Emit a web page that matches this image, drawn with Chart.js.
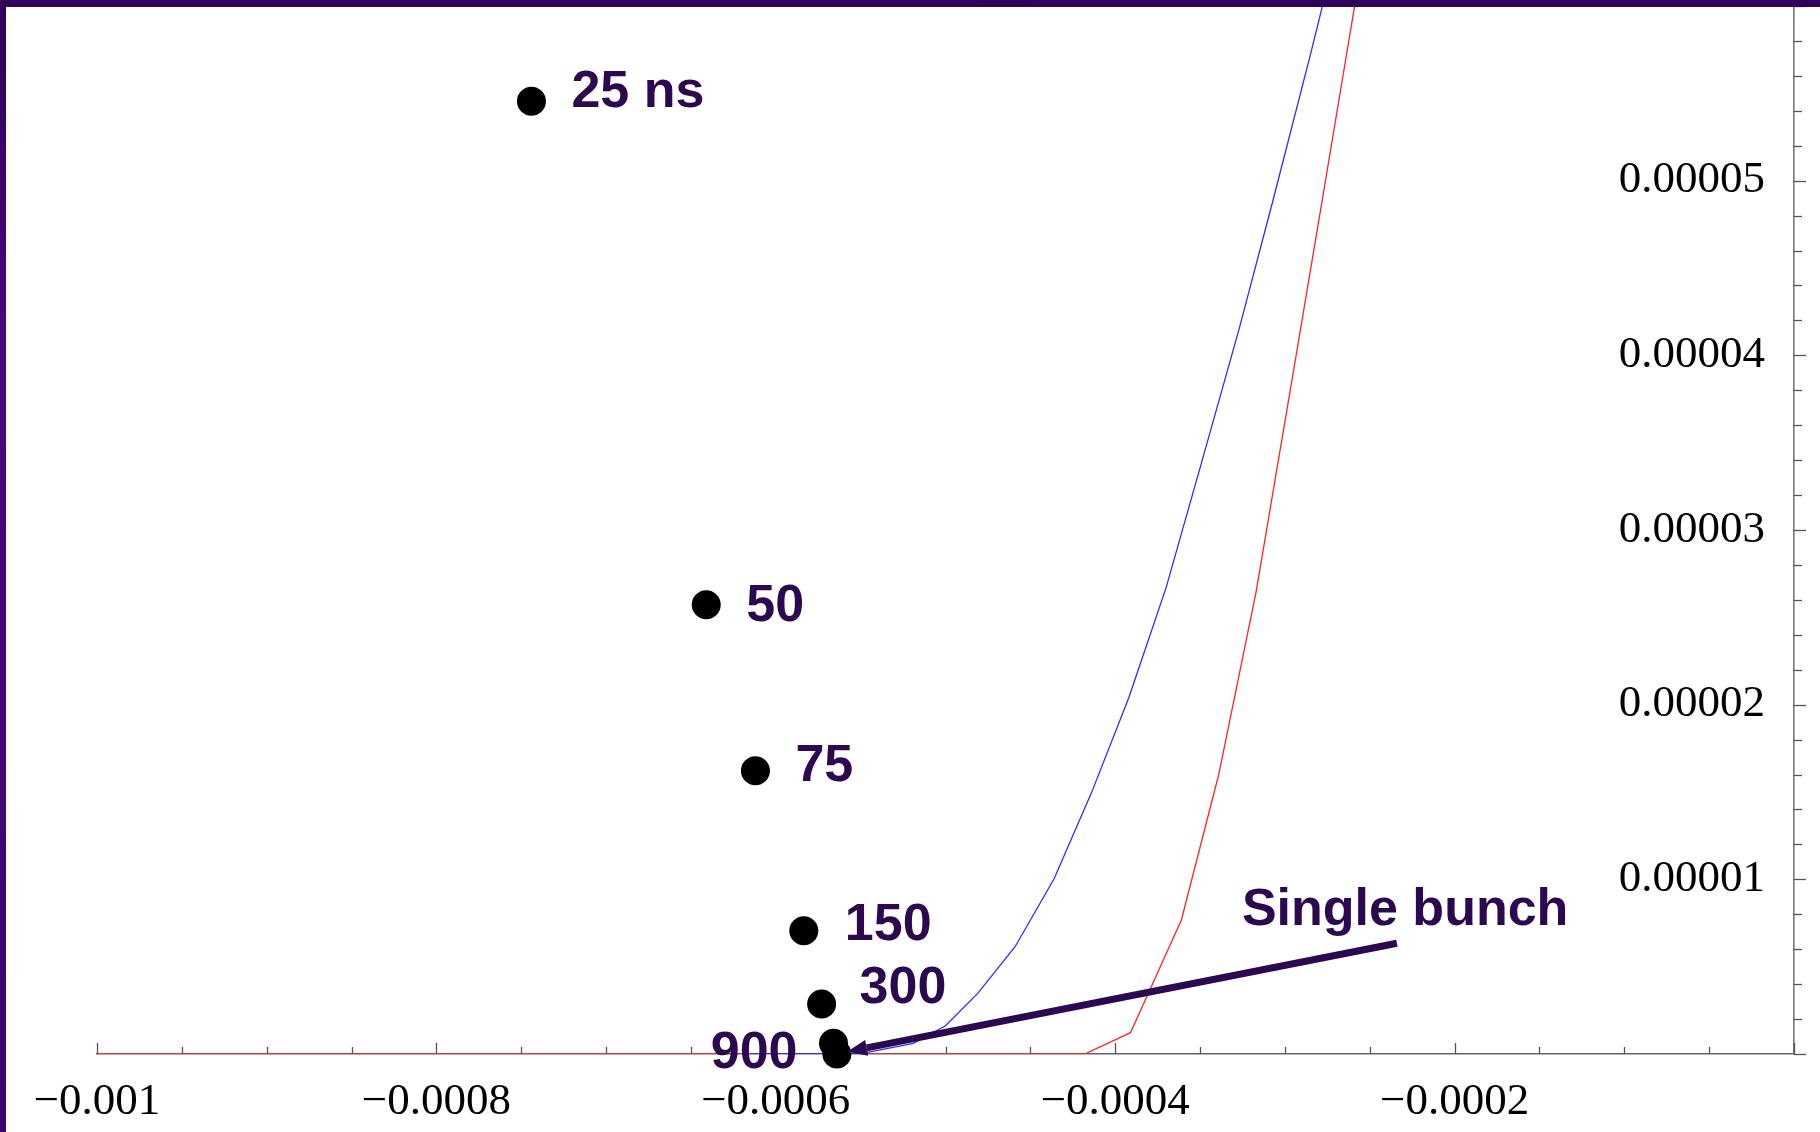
<!DOCTYPE html>
<html>
<head>
<meta charset="utf-8">
<title>Coupled-bunch thresholds</title>
<script src="https://cdn.jsdelivr.net/npm/chart.js@4.4.1/dist/chart.umd.min.js"></script>
<style>
  html, body { margin: 0; padding: 0; background: #ffffff; }
  #wrap { position: relative; width: 1820px; height: 1132px; overflow: hidden; background: #ffffff; }
  #c { position: absolute; left: 0; top: 0; }
  .frame-top { position: absolute; left: 0; top: 0; width: 1820px; height: 7px;
               background: linear-gradient(to right, #31005c, #2e0057); }
  .frame-left { position: absolute; left: 0; top: 0; width: 6px; height: 1132px;
                background: linear-gradient(to bottom, #30005a 0%, #48077f 30%, #3a0670 100%); }
</style>
</head>
<body>
<div id="wrap">
  <canvas id="c" width="1820" height="1132"></canvas>
  <div class="frame-top"></div>
  <div class="frame-left"></div>
</div>
<script>
// Stability boundary curves
const blueX = [-0.00062, -0.000549, -0.000519, -0.0005, -0.000481, -0.000459, -0.000436,
               -0.000414, -0.000392, -0.00037, -0.000349, -0.000327, -0.000307, -0.000285,
               -0.000278, -0.000263];
const blueY = [0, 0.00000004, 0.00000061, 0.00000162, 0.00000347, 0.00000614, 0.00001003,
               0.00001495, 0.0000204, 0.0000267, 0.0000339, 0.0000415, 0.00004888, 0.0000572,
               0.00005995, 0.0000656];

const redX = [-0.001, -0.000418, -0.000391, -0.000361, -0.000339, -0.000317, -0.000296,
              -0.000278, -0.000259, -0.000245];
const redY = [0, 0, 0.00000122, 0.00000767, 0.000016, 0.00002645, 0.0000385,
              0.00004888, 0.00005995, 0.000068];

// Working points for each bunch spacing
const bunchLabels = ['25 ns', '50', '75', '150', '300', '900', 'Single bunch'];
const bunchX = [-0.000744, -0.000641, -0.000612, -0.0005835, -0.000573, -0.000566, -0.000564];
const bunchY = [0.00005455, 0.00002572, 0.00001622, 0.00000706, 0.00000286, 0.00000061, 0];

// Axis tick labels
const xTickValues = [-0.001, -0.0008, -0.0006, -0.0004, -0.0002];
const yTickValues = [0.00001, 0.00002, 0.00003, 0.00004, 0.00005];

// Arrow from the "Single bunch" caption to its point (data units)
const arrowTail = { x: -0.000234, y: 0.00000634 };
const arrowTip = { x: -0.000558, y: 0.00000013 };

const toPoints = (xs, ys) => xs.map((x, i) => ({ x, y: ys[i] }));

const INK = '#2c0850';
const LABEL_FONT = 'bold 52px "Liberation Sans", Arial, sans-serif';
// pixel offsets of each caption from its point: [dx, dy, align]
const labelPlacement = [
  [40, 6, 'left'], [40, 16, 'left'], [40, 10, 'left'], [41, 9, 'left'],
  [38, -1, 'left'], [-36, 25, 'right'], null
];

function fmtTick(v) {
  if (Math.abs(v) < 1e-12) return null;
  return (v < 0 ? '\u2212' : '') + Math.abs(v).toString();
}

// Minor/major tick marks: x ticks rise into the plot, y ticks point outward
const tickMarks = {
  id: 'tickMarks',
  beforeDatasetsDraw(chart) {
    const { ctx, chartArea, scales } = chart;
    ctx.save();
    ctx.strokeStyle = '#555555';
    ctx.lineWidth = 1.3;
    const xs = scales.x, ys = scales.y;
    const xStep = 0.00005, xMajor = 0.0002;
    for (let i = 0; ; i++) {
      const v = xs.min + i * xStep;
      if (v > xs.max + 1e-12) break;
      const r = v / xMajor;
      const major = Math.abs(r - Math.round(r)) < 1e-6;
      const px = Math.round(xs.getPixelForValue(v)) + 0.5;
      ctx.beginPath();
      ctx.moveTo(px, chartArea.bottom);
      ctx.lineTo(px, chartArea.bottom - (major ? 11 : 7));
      ctx.stroke();
    }
    const yStep = 0.000002, yMajor = 0.00001;
    for (let i = 0; ; i++) {
      const v = ys.min + i * yStep;
      if (v > ys.max + 1e-12) break;
      const r = v / yMajor;
      const major = Math.abs(r - Math.round(r)) < 1e-6;
      const py = Math.round(ys.getPixelForValue(v)) + 0.5;
      ctx.beginPath();
      ctx.moveTo(chartArea.right, py);
      ctx.lineTo(chartArea.right + (major ? 12 : 8), py);
      ctx.stroke();
    }
    ctx.restore();
  }
};

// Captions next to the points and the arrow to the single-bunch point
const captions = {
  id: 'captions',
  afterDatasetsDraw(chart) {
    const { ctx, scales } = chart;
    const meta = chart.getDatasetMeta(0);
    ctx.save();
    ctx.font = LABEL_FONT;
    ctx.fillStyle = INK;
    ctx.textBaseline = 'alphabetic';
    meta.data.forEach((pt, i) => {
      const p = labelPlacement[i];
      if (!p) return;
      ctx.textAlign = p[2];
      ctx.fillText(bunchLabels[i], pt.x + p[0], pt.y + p[1]);
    });

    const tx = scales.x.getPixelForValue(arrowTail.x);
    const ty = scales.y.getPixelForValue(arrowTail.y);
    const hx = scales.x.getPixelForValue(arrowTip.x);
    const hy = scales.y.getPixelForValue(arrowTip.y);
    const ang = Math.atan2(hy - ty, hx - tx);
    const headLen = 20, headHalf = 8;
    const bx = hx - headLen * Math.cos(ang), by = hy - headLen * Math.sin(ang);
    ctx.strokeStyle = INK;
    ctx.lineWidth = 7;
    ctx.lineCap = 'butt';
    ctx.beginPath();
    ctx.moveTo(tx, ty);
    ctx.lineTo(bx, by);
    ctx.stroke();
    ctx.beginPath();
    ctx.moveTo(hx, hy);
    ctx.lineTo(bx + headHalf * Math.sin(ang), by - headHalf * Math.cos(ang));
    ctx.lineTo(bx - headHalf * Math.sin(ang), by + headHalf * Math.cos(ang));
    ctx.closePath();
    ctx.fill();

    ctx.textAlign = 'left';
    ctx.fillText(bunchLabels[6], tx - 155, ty - 18);
    ctx.restore();
  }
};

new Chart(document.getElementById('c'), {
  data: {
    datasets: [
      {
        type: 'scatter',
        data: toPoints(bunchX, bunchY),
        backgroundColor: '#000000',
        borderColor: '#000000',
        pointRadius: 14.5,
        pointHoverRadius: 14.5,
        borderWidth: 0,
        clip: false,
        order: 0
      },
      {
        type: 'line',
        data: toPoints(blueX, blueY),
        borderColor: 'rgb(45,45,255)',
        borderWidth: 1.3,
        pointRadius: 0,
        tension: 0,
        fill: false,
        order: 1
      },
      {
        type: 'line',
        data: toPoints(redX, redY),
        borderColor: 'rgb(255,35,35)',
        borderWidth: 1.3,
        pointRadius: 0,
        tension: 0,
        fill: false,
        order: 2
      }
    ]
  },
  options: {
    responsive: false,
    animation: false,
    events: [],
    layout: { autoPadding: false, padding: { left: 97, right: 26, top: 6, bottom: 0 } },
    plugins: { legend: { display: false }, tooltip: { enabled: false } },
    scales: {
      x: {
        type: 'linear',
        position: 'bottom',
        min: -0.001,
        max: 0,
        grid: { display: false, drawTicks: false },
        border: { display: true, color: '#666666', width: 1.6 },
        afterBuildTicks: (s) => { s.ticks = xTickValues.map(v => ({ value: v })); },
        afterFit: (s) => { s.height = 78; s.paddingLeft = 0; s.paddingRight = 0; },
        ticks: {
          padding: 21,
          color: '#000000',
          maxRotation: 0,
          autoSkip: false,
          font: { family: '"Liberation Serif", "Times New Roman", serif', size: 45 },
          callback: (v) => fmtTick(v)
        }
      },
      y: {
        type: 'linear',
        position: 'right',
        min: 0,
        max: 0.00006,
        grid: { display: false, drawTicks: false },
        border: { display: true, color: '#777777', width: 1.6 },
        afterBuildTicks: (s) => { s.ticks = yTickValues.map(v => ({ value: v })); },
        afterFit: (s) => { s.width = 0; s.paddingTop = 0; s.paddingBottom = 0; },
        ticks: {
          mirror: true,
          padding: -29,
          color: '#000000',
          autoSkip: false,
          font: { family: '"Liberation Serif", "Times New Roman", serif', size: 45 },
          callback: (v) => fmtTick(v)
        }
      }
    }
  },
  plugins: [tickMarks, captions]
});
</script>
</body>
</html>
